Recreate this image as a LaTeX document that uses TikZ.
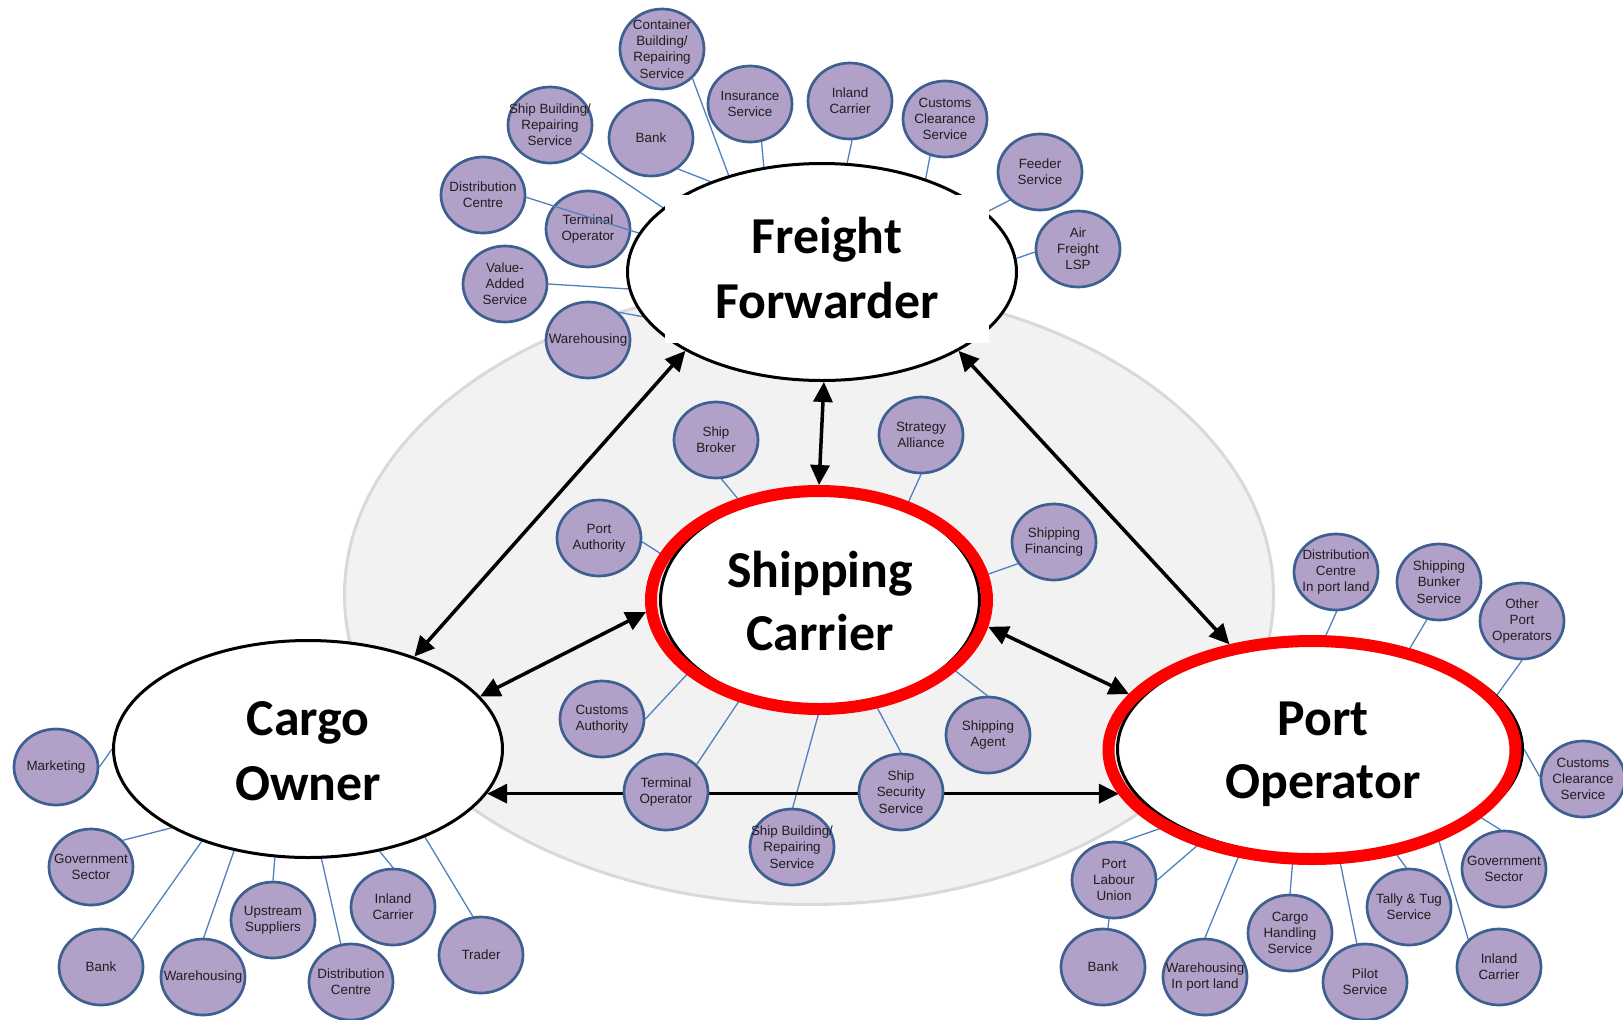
\documentclass[tikz,border=0pt]{standalone}
\usepackage{fontspec}
\setmainfont{Liberation Sans}
\newfontfamily\headfont{Carlito}
\usetikzlibrary{shapes.geometric,arrows.meta}

\definecolor{lav}{HTML}{B1A0C7}
\definecolor{rim}{HTML}{3D6090}
\definecolor{linkblue}{HTML}{4F81BD}
\definecolor{fieldfill}{HTML}{F2F2F2}
\definecolor{fieldrim}{HTML}{D9D9D9}
\definecolor{ringred}{HTML}{FF0000}

\pgfdeclarelayer{back}
\pgfdeclarelayer{links}
\pgfdeclarelayer{front}
\pgfsetlayers{back,links,main,front}

\begin{document}
\begin{tikzpicture}[x=0.5pt,y=-0.5pt,
  satlabel/.style={align=center, inner sep=0pt,
    font=\fontsize{6.7}{8.1}\selectfont, text=black!88},
  sat/.style={ellipse, draw=rim, fill=lav, line width=1.35pt,
    minimum width=42pt, minimum height=38pt, inner sep=0pt,
    label={[satlabel]center:{#1}}},
  actor/.style={ellipse, draw=black, fill=white, line width=1.5pt, inner sep=0pt},
  ring/.style={ellipse, draw=ringred, line width=6pt, inner sep=0pt},
  title/.style={anchor=base, inner sep=0pt,
    font=\headfont\bfseries\fontsize{25.9}{32}\selectfont},
  link/.style={draw=linkblue, line width=0.65pt},
  dual/.style={draw=black, line width=1.75pt,
    {Triangle[length=10pt,width=9.5pt]}-{Triangle[length=10pt,width=9.5pt]}}
]
\useasboundingbox (0,0) rectangle (1623,1019);

% shared field behind the four actors
\begin{pgfonlayer}{back}
  \node[ellipse, fill=fieldfill, draw=fieldrim, line width=1.5pt, inner sep=0pt,
        minimum width=464.5pt, minimum height=309.5pt] (field) at (809,595) {};
\end{pgfonlayer}

% ---- main actors ----
\node[actor, minimum width=194.5pt, minimum height=108.5pt] (ff) at (822,272) {};
\node[fill=white, inner sep=0pt, minimum width=162pt, minimum height=74pt] (ffpad) at (827,269) {};
\node[title] (ffa) at (827,253) {Freight};
\node[title] (ffb) at (827,318) {Forwarder};

\node[actor, minimum width=194.5pt, minimum height=108.5pt] (co) at (308,749) {};
\node[title] (coa) at (308,735) {Cargo};
\node[title] (cob) at (308,800) {Owner};

\node[actor, minimum width=159.5pt, minimum height=107pt] (sc) at (820,600) {};
\node[ring, minimum width=168pt, minimum height=109pt] (scring) at (819,600) {};
\node[title] (sca) at (820,587) {Shipping};
\node[title] (scb) at (820,650) {Carrier};

\node[actor, minimum width=202.5pt, minimum height=107.5pt] (po) at (1320,749) {};
\node[ring, minimum width=203.5pt, minimum height=109pt] (poring) at (1312,750) {};
\node[title] (poa) at (1323,735) {Port};
\node[title] (pob) at (1323,798) {Operator};

% ---- Freight Forwarder partners ----
\node[sat={Container\\Building/\\Repairing\\Service}, minimum height=40pt] (ffcont) at (662,49) {};
\node[sat={Ship Building/\\Repairing\\Service}] (ffship) at (550,125) {};
\node[sat={Bank}] (ffbank) at (651,138) {};
\node[sat={Insurance\\Service}] (ffins) at (750,104) {};
\node[sat={Inland\\Carrier}] (ffinl) at (850,101) {};
\node[sat={Customs\\Clearance\\Service}] (ffcus) at (945,119) {};
\node[sat={Distribution\\Centre}] (ffdist) at (483,195) {};
\node[sat={Terminal\\Operator}] (ffterm) at (588,229) {};
\node[sat={Value-\\Added\\Service}] (ffval) at (505,284) {};
\node[sat={Warehousing}] (ffware) at (588,340) {};
\node[sat={Feeder\\Service}] (fffeed) at (1040,172) {};
\node[sat={Air\\Freight\\LSP}] (ffair) at (1078,249) {};

% ---- Shipping Carrier partners ----
\node[sat={Ship\\Broker}] (scbrok) at (716,440) {};
\node[sat={Strategy\\Alliance}] (scstrat) at (921,435) {};
\node[sat={Port\\Authority}] (scauth) at (599,538) {};
\node[sat={Shipping\\Financing}] (scfin) at (1054,542) {};
\node[sat={Customs\\Authority}] (sccust) at (602,719) {};
\node[sat={Terminal\\Operator}] (scterm) at (666,792) {};
\node[sat={Ship Building/\\Repairing\\Service}] (scship) at (792,847) {};
\node[sat={Ship\\Security\\Service}] (scsec) at (901,792) {};
\node[sat={Shipping\\Agent}] (scagent) at (988,735) {};

% ---- Cargo Owner partners ----
\node[sat={Marketing}] (comkt) at (56,767) {};
\node[sat={Government\\Sector}] (cogov) at (91,867) {};
\node[sat={Bank}] (cobank) at (101,967) {};
\node[sat={Warehousing}] (coware) at (203,977) {};
\node[sat={Upstream\\Suppliers}] (coups) at (273,920) {};
\node[sat={Distribution\\Centre}] (codist) at (351,982) {};
\node[sat={Inland\\Carrier}] (coinl) at (393,907) {};
\node[sat={Trader}] (cotrad) at (481,955) {};

% ---- Port Operator partners ----
\node[sat={Distribution\\Centre\\In port land}] (podist) at (1336,572) {};
\node[sat={Shipping\\Bunker\\Service}] (pobunk) at (1439,582) {};
\node[sat={Other\\Port\\Operators}] (pooth) at (1522,621) {};
\node[sat={Customs\\Clearance\\Service}] (pocus) at (1583,779) {};
\node[sat={Government\\Sector}] (pogov) at (1504,869) {};
\node[sat={Inland\\Carrier}] (poinl) at (1499,967) {};
\node[sat={Tally \& Tug\\Service}] (potally) at (1409,907) {};
\node[sat={Pilot\\Service}] (popilot) at (1365,982) {};
\node[sat={Cargo\\Handling\\Service}] (pocargo) at (1290,933) {};
\node[sat={Warehousing\\In port land}] (poware) at (1205,977) {};
\node[sat={Bank}] (pobank) at (1103,967) {};
\node[sat={Port\\Labour\\Union}] (polab) at (1114,880) {};

% ---- partner links and actor relations, kept under the nodes ----
\begin{pgfonlayer}{links}
  \draw[link] (ffcont.316) -- (ff.134);
  \draw[link] (ffship.318) -- (ff.158);
  \draw[link] (ffbank.311) -- (ff.141);
  \draw[link] (ffins.287)  -- (ff.119);
  \draw[link] (ffinl.273)  -- (ff.77);
  \draw[link] (ffcus.248)  -- (ff.42);
  \draw[link] (ffval.0)    -- (ff.185);
  \draw[link] (ffware.42)  -- (ff.194);
  \draw[link] (fffeed.223) -- (ff.20);
  \draw[link] (ffair.184)  -- (ff.4);

  \draw[link] (scbrok.278)  -- (sc.129);
  \draw[link] (scstrat.270) -- (sc.47);
  \draw[link] (scauth.355)  -- (sc.165);
  \draw[link] (scfin.211)   -- (sc.8);
  \draw[link] (sccust.0)    -- (sc.208);
  \draw[link] (scterm.42)   -- (sc.231);
  \draw[link] (scship.89)   -- (sc.270);
  \draw[link] (scsec.90)    -- (sc.298);
  \draw[link] (scagent.91)  -- (sc.333);

  \draw[link] (comkt.0)    -- (co.180);
  \draw[link] (cogov.40)   -- (co.210);
  \draw[link] (cobank.41)  -- (co.221);
  \draw[link] (coware.89)  -- (co.234);
  \draw[link] (coups.90)   -- (co.253);
  \draw[link] (codist.105) -- (co.277);
  \draw[link] (coinl.90)   -- (co.305);
  \draw[link] (cotrad.102) -- (co.323);

  \draw[link] (podist.271)  -- (po.88);
  \draw[link] (pobunk.252)  -- (po.48);
  \draw[link] (pooth.270)   -- (po.17);
  \draw[link] (pocus.177)   -- (po.0);
  \draw[link] (pogov.95)    -- (po.337);
  \draw[link] (poinl.138)   -- (po.323);
  \draw[link] (potally.94)  -- (po.306);
  \draw[link] (popilot.102) -- (po.280);
  \draw[link] (pocargo.90)  -- (po.256);
  \draw[link] (poware.90)   -- (po.232);
  \draw[link] (pobank)      -- (polab);
  \draw[link] (polab.77)    -- (po.207);
  \draw[link] (polab.0)     -- (po.218);

  \draw[dual] (ff.210) -- (co.41);
  \draw[dual] (ff.271) -- (scring.90);
  \draw[dual] (ff.330) -- (poring.128);
  \draw[dual] (scring.184) -- (co.17);
  \draw[dual] (scring.351) -- (poring.163);
  \draw[dual] (co.346.5) -- (co.346.5 -| poring.193);
\end{pgfonlayer}

% this link runs across the Terminal Operator bubble
\begin{pgfonlayer}{front}
  \draw[link] (ffdist.357) -- (ff.168);
\end{pgfonlayer}
\end{tikzpicture}
\end{document}
